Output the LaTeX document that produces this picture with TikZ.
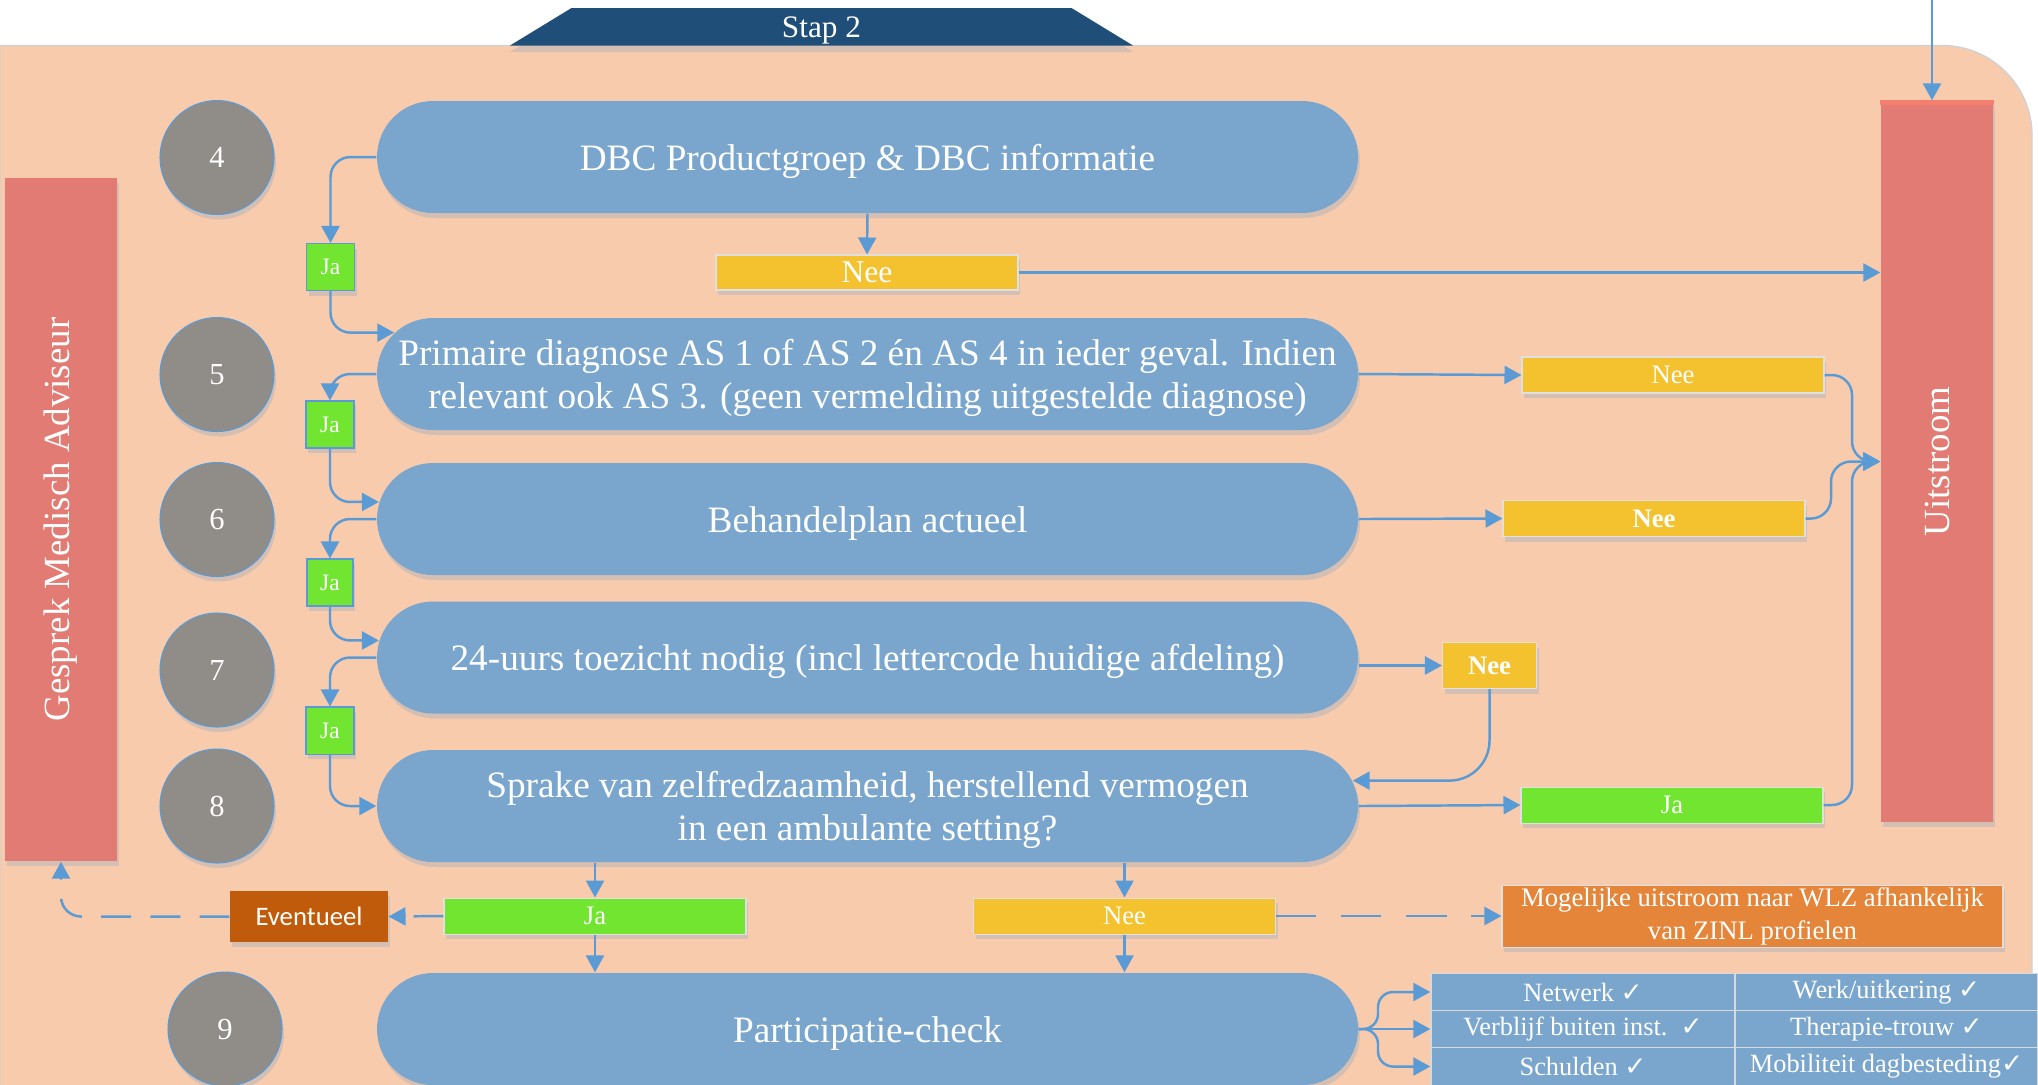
\documentclass[tikz,border=0pt]{standalone}
\usepackage{fontspec}
\setmainfont{Liberation Serif}
\newfontfamily\calfont{Carlito}
\newfontfamily\chkfont{DejaVu Sans}
\usetikzlibrary{arrows.meta,positioning,calc,shapes.misc,shadows}

\definecolor{peach}{HTML}{F8CBAD}
\definecolor{stapblue}{HTML}{1F4E79}
\definecolor{pillblue}{HTML}{7AA6CE}
\definecolor{numgrey}{HTML}{908C88}
\definecolor{barred}{HTML}{E27B73}
\definecolor{bartop}{HTML}{F47F6E}
\definecolor{jagreen}{HTML}{71E52F}
\definecolor{neeyellow}{HTML}{F4C12F}
\definecolor{eventorange}{HTML}{BF5B0B}
\definecolor{mogorange}{HTML}{E5853A}
\definecolor{linkblue}{HTML}{5B9BD5}
\definecolor{shadowc}{HTML}{D5BFB3}

\newcommand{\vink}{{\chkfont ✓}}

\tikzset{
    shadowed/.style={general shadow={fill=shadowc, shadow xshift=0.2mm, shadow yshift=-0.5mm}},
    pill/.style={rounded rectangle, fill=pillblue, text=white, minimum width=9.81cm, minimum height=1.12cm, inner sep=0pt, align=center, font=\fontsize{10.6}{12.3}\selectfont, execute at begin node={\rule{0pt}{9.8pt}}, shadowed},
    twoline/.style={text depth=0pt},
    stepnum/.style={circle, fill=numgrey, draw=linkblue, line width=0.3pt, minimum size=1.14cm, inner sep=0pt, text=white, font=\fontsize{8.7}{10}\selectfont, shadowed},
    jasmall/.style={rectangle, fill=jagreen, draw=linkblue, line width=0.3pt, minimum width=0.48cm, minimum height=0.47cm, inner sep=0pt, text=white, font=\fontsize{6.7}{8}\selectfont, shadowed},
    optbox/.style={rectangle, fill=#1, draw=black!12, line width=0.3pt, minimum width=3.02cm, minimum height=0.36cm, inner sep=0pt, text=white, font=\fontsize{7.6}{9}\selectfont, shadowed},
    sidebar/.style={rectangle, fill=barred, minimum width=1.12cm, inner sep=0pt, text=white, font=\fontsize{10.5}{12}\selectfont, shadowed},
    cell/.style={rectangle, fill=pillblue, draw=white!70!gray, line width=0.4pt, minimum width=3.04cm, minimum height=0.375cm, inner sep=0pt, text=white, font=\fontsize{7.5}{9}\selectfont},
    arr/.style={draw=linkblue, line width=0.7pt, rounded corners=2mm, -{Triangle[length=1.7mm,width=1.8mm]}},
    dasharr/.style={arr, dash pattern=on 8.5pt off 5.5pt},
}

\begin{document}
\begin{tikzpicture}

    \useasboundingbox (0,0) rectangle (20.38,-10.84);
    %\draw[step=1,help lines] (0,0) grid (21,-11);

    \filldraw[fill=peach, draw=black!18] (0,-11) |- (19.42,-0.455) arc[start angle=90, end angle=0, radius=0.9] -- (20.32,-11) -- cycle;
    \fill[shadowc] (5.10,-0.52) -- (5.715,-0.145) -- (10.715,-0.145) -- (11.33,-0.52) -- cycle;
    \fill[stapblue] (5.10,-0.455) -- (5.715,-0.08) -- (10.715,-0.08) -- (11.33,-0.455) -- cycle;
    \node[text=white, font=\fontsize{8.9}{10}\selectfont] (stap) at (8.215,-0.305) {Stap 2};

    \node[sidebar, minimum height=6.83cm] (gma) at (0.61,-5.195) {\rotatebox{90}{Gesprek Medisch Adviseur}};
    \node[sidebar, minimum height=7.21cm] (uit) at (19.37,-4.615) {\rotatebox{90}{Uitstroom}};
    \fill[bartop] (uit.north west) rectangle ([yshift=-0.05cm]uit.north east);

    \node[stepnum] (n4) at (2.17,-1.575) {4};
    \node[stepnum] (n5) at (2.17,-3.745) {5};
    \node[stepnum] (n6) at (2.17,-5.195) {6};
    \node[stepnum] (n7) at (2.17,-6.70) {7};
    \node[stepnum] (n8) at (2.17,-8.06) {8};
    \node[stepnum] (n9) at (2.25,-10.29) {9};

    \node[pill] (p4) at (8.675,-1.57) {DBC Productgroep \& DBC informatie};
    \node[pill, twoline] (p5) at (8.675,-3.74) {Primaire diagnose AS 1 of AS 2 én AS 4 in ieder geval. Indien\\relevant ook AS 3. (geen vermelding uitgestelde diagnose)};
    \node[pill] (p6) at (8.675,-5.19) {Behandelplan actueel};
    \node[pill] (p7) at (8.675,-6.575) {24-uurs toezicht nodig (incl lettercode huidige afdeling)};
    \node[pill, twoline] (p8) at (8.675,-8.06) {Sprake van zelfredzaamheid, herstellend vermogen\\in een ambulante setting?};
    \node[pill] (p9) at (8.675,-10.29) {Participatie-check};

    \node[jasmall] (ja1) at (3.305,-2.67) {Ja};
    \node[jasmall] (ja2) at (3.30,-4.245) {Ja};
    \node[jasmall, minimum width=0.46cm] (ja3) at (3.30,-5.825) {Ja};
    \node[jasmall] (ja4) at (3.30,-7.305) {Ja};

    \node[optbox=neeyellow, minimum height=0.35cm, font=\fontsize{9}{10}\selectfont] (nee1) at (8.67,-2.725) {Nee};
    \node[optbox=neeyellow] (nee2) at (16.73,-3.75) {Nee};
    \node[optbox=neeyellow, font=\fontsize{7.6}{9}\selectfont\bfseries] (nee3) at (16.54,-5.185) {Nee};
    \node[optbox=neeyellow, minimum width=0.94cm, minimum height=0.46cm, font=\fontsize{7.6}{9}\selectfont\bfseries] (nee4) at (14.895,-6.655) {Nee};
    \node[optbox=jagreen] (ja8) at (16.72,-8.05) {Ja};
    \node[optbox=jagreen] (ja9) at (5.95,-9.16) {Ja};
    \node[optbox=neeyellow] (nee9) at (11.245,-9.16) {Nee};
    \node[optbox=eventorange, draw=none, minimum width=1.58cm, minimum height=0.51cm, font=\calfont\fontsize{7.6}{9}\selectfont] (event) at (3.09,-9.165) {Eventueel};
    \node[optbox=mogorange, minimum width=5.01cm, minimum height=0.62cm, align=center, font=\fontsize{7.6}{9.4}\selectfont] (mog) at (17.525,-9.16) {Mogelijke uitstroom naar WLZ afhankelijk\\van ZINL profielen};

    \node[cell] (net) at (15.83,-9.92) {Netwerk \vink};
    \node[cell, minimum width=3.03cm] (werk) at (18.865,-9.92) {Werk/uitkering \vink};
    \node[cell] (verb) at (15.83,-10.29) {Verblijf buiten inst.\ \ \vink};
    \node[cell, minimum width=3.03cm] (ther) at (18.865,-10.29) {Therapie-trouw \vink};
    \node[cell] (schul) at (15.83,-10.665) {Schulden \vink};
    \node[cell, minimum width=3.03cm] (mob) at (18.865,-10.665) {Mobiliteit dagbesteding\vink};

    \coordinate (intop) at (19.32,0);
    \coordinate (mrg) at (18.52,-4.615);
    \coordinate (mrg2) at (18.31,-4.615);
    \coordinate (fork) at (13.78,-10.29);

    \draw[arr] (p4.west) -| (ja1.north);
    \draw[arr] (ja1.south) |- (p5.175);
    \draw[arr] (p5.west) -| (ja2.north);
    \draw[arr] (ja2.south) |- (p6.178);
    \draw[arr] (p6.west) -| (ja3.north);
    \draw[arr] (ja3.south) |- (p7.178);
    \draw[arr] (p7.west) -| (ja4.north);
    \draw[arr] (ja4.south) |- (p8.west);

    \draw[arr] (intop) -- (intop |- uit.north);
    \draw[arr] (p4.south) -- (nee1.north);
    \draw[arr] (nee1.east) -- (nee1.east -| uit.west);
    \draw[arr] (p5.east) -- (nee2.west);
    \draw[arr] (nee2.east) -| (mrg) -- (uit.west);
    \draw[arr] (p6.east) -- (nee3.west);
    \draw[arr] (nee3.east) -| (mrg2) -- (uit.west);
    \draw[arr] (p7.east |- nee4.west) -- (nee4.west);
    \draw[arr, rounded corners=4mm] (nee4.south) |- (p8.3);
    \draw[arr] (p8.east) -- (ja8.west);
    \draw[arr] (ja8.east) -| (mrg) -- (uit.west);

    \draw[arr] (ja9.north |- p8.south) -- (ja9.north);
    \draw[arr] (ja9.south) -- (ja9.south |- p9.north);
    \draw[arr] (nee9.north |- p8.south) -- (nee9.north);
    \draw[arr] (nee9.south) -- (nee9.south |- p9.north);
    \draw[dasharr] (ja9.west) -- (event.east);
    \draw[dasharr] (event.west) -| (gma.south);
    \draw[dasharr, dash pattern=on 11.5pt off 7pt] (nee9.east) -- (mog.west);

    \draw[arr, rounded corners=1.5mm] (p9.east) -- (fork) |- (net.west);
    \draw[arr] (p9.east) -- (verb.west);
    \draw[arr, rounded corners=1.5mm] (p9.east) -- (fork) |- (schul.west);
\end{tikzpicture}
\end{document}
